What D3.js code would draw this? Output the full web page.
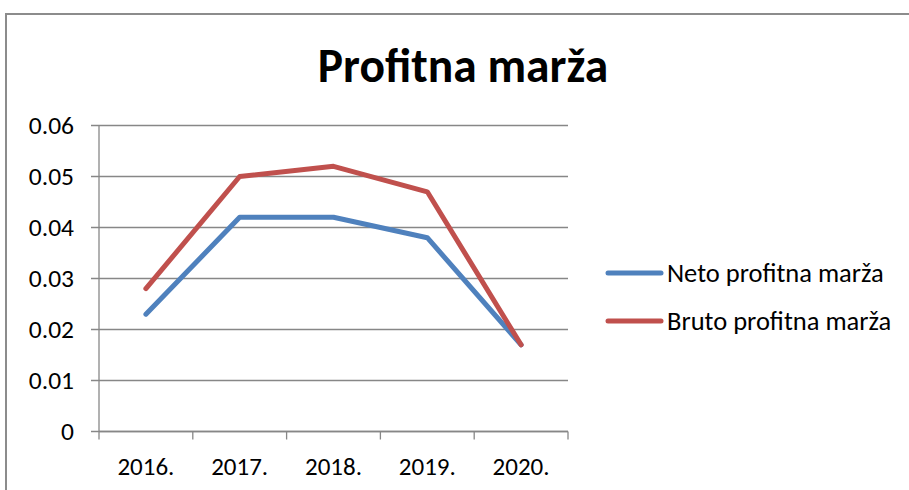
<!DOCTYPE html>
<html><head><meta charset="utf-8">
<script src="https://cdn.jsdelivr.net/npm/d3@7"></script>
<style>
html,body{margin:0;padding:0;background:#fff;}
svg{display:block;}
text{font-family:Carlito,Calibri,"Open Sans","Liberation Sans",sans-serif;fill:#000;}
</style></head>
<body>
<svg id="c" width="909" height="490"></svg>
<script>
const title = "Profitna marža";
const categories = ["2016.", "2017.", "2018.", "2019.", "2020."];
const neto = [0.023, 0.042, 0.042, 0.038, 0.017];
const bruto = [0.028, 0.050, 0.052, 0.047, 0.017];
const seriesNames = ["Neto profitna marža", "Bruto profitna marža"];
const seriesColors = ["#4F81BD", "#C0504D"];
const yTicks = [0, 0.01, 0.02, 0.03, 0.04, 0.05, 0.06];

const svg = d3.select("#c");
// outer frame
svg.append("path").attr("d","M6,490V14H909").attr("fill","none").attr("stroke","#8c8c8c").attr("stroke-width",2);

const pLeft = 99, pRight = 568, pTop = 125.5, pBottom = 431.5;
const x = d3.scaleBand().domain(categories).range([pLeft, pRight]);
const y = d3.scaleLinear().domain([0, 0.06]).range([pBottom, pTop]);

// gridlines
svg.append("g").selectAll("line").data(yTicks).join("line")
  .attr("x1", pLeft - 8).attr("x2", pRight)
  .attr("y1", d => y(d)).attr("y2", d => y(d))
  .attr("stroke", "#878787").attr("stroke-width", 1.3);

// y axis line
svg.append("line").attr("x1",pLeft).attr("x2",pLeft).attr("y1",pTop).attr("y2",pBottom)
  .attr("stroke","#878787").attr("stroke-width",1.3);

// y labels
svg.append("g").selectAll("text").data(yTicks).join("text")
  .attr("x", 74).attr("y", d => y(d)).attr("dy","0.35em")
  .attr("text-anchor","end").attr("font-size", 25.5)
  .text(d => d === 0 ? "0" : d.toFixed(2));

// x axis
const xg = svg.append("g").attr("transform",`translate(0,${pBottom})`);
xg.append("line").attr("x1",pLeft).attr("x2",pRight).attr("stroke","#878787").attr("stroke-width",1.3);
const edges = categories.map(c => x(c)).concat([x(categories[categories.length-1]) + x.bandwidth()]);
xg.selectAll("line.t").data(edges).join("line").attr("class","t")
  .attr("x1",d=>d).attr("x2",d=>d).attr("y1",0).attr("y2",8)
  .attr("stroke","#878787").attr("stroke-width",1.3);
xg.selectAll("text").data(categories).join("text")
  .attr("x", d => x(d) + x.bandwidth()/2).attr("y", 35).attr("dy","0.35em")
  .attr("text-anchor","middle").attr("font-size",25).text(d=>d);

// lines
const line = d3.line().x((d,i)=>x(categories[i]) + x.bandwidth()/2).y(d=>y(d));
[neto, bruto].forEach((s, k) => {
  svg.append("path").datum(s).attr("d", line).attr("fill","none")
    .attr("stroke", seriesColors[k]).attr("stroke-width", 5)
    .attr("stroke-linejoin","round").attr("stroke-linecap","round");
});

// title
svg.append("text").attr("x", 463).attr("y", 65).attr("dy","0.35em")
  .attr("text-anchor","middle").attr("font-size",47.5).attr("font-weight","bold").text(title);

// legend
const lg = svg.append("g");
seriesNames.forEach((n,k) => {
  const ly = 273 + k*48;
  lg.append("line").attr("x1",608).attr("x2",661).attr("y1",ly).attr("y2",ly)
    .attr("stroke",seriesColors[k]).attr("stroke-width",5).attr("stroke-linecap","round");
  lg.append("text").attr("x",667).attr("y",ly).attr("dy","0.35em").attr("font-size",26.5).text(n);
});
</script>
</body></html>
